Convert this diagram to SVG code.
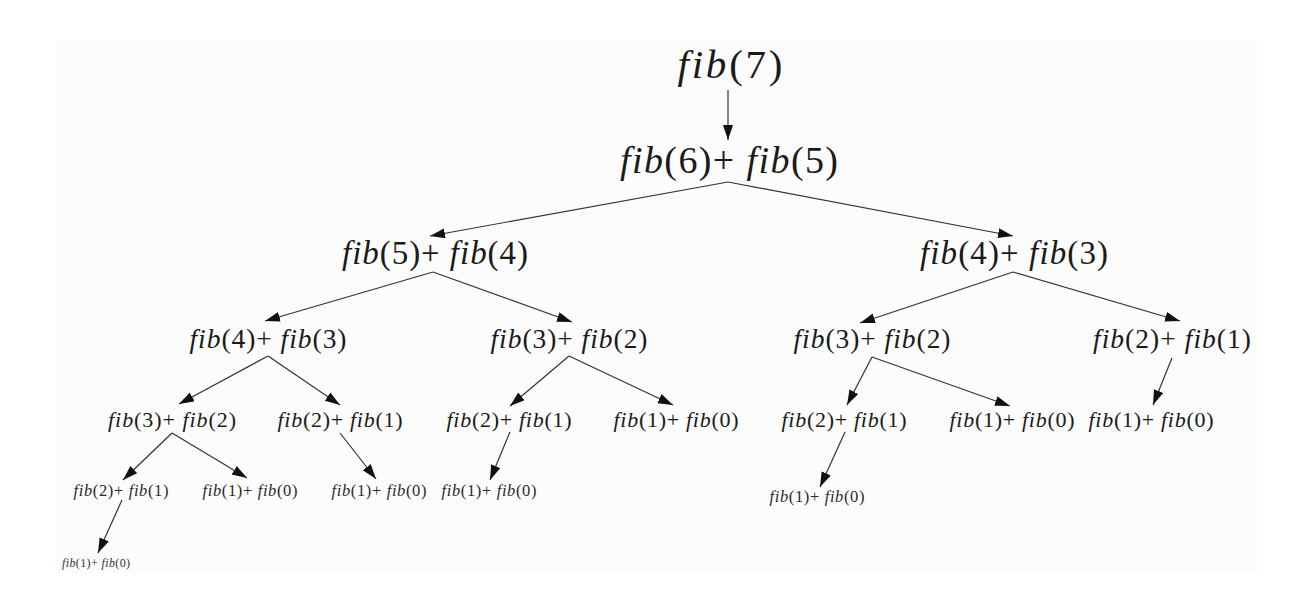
<svg xmlns="http://www.w3.org/2000/svg" width="1298" height="595" viewBox="0 0 1298 595">
<defs>
<marker id="ah" markerUnits="userSpaceOnUse" markerWidth="16" markerHeight="11" refX="15" refY="5" orient="auto">
<path d="M0,0 L15,5 L0,10 Z" fill="#111"/>
</marker>
<style>
text{font-family:"Liberation Serif","Times New Roman",serif;fill:#1a1a1a;text-anchor:middle}
.i{font-style:italic}
.l0{font-size:41px}
.l1{font-size:38px}
.l2{font-size:33px}
.l3{font-size:27.5px}
.l4{font-size:22px}
.l5{font-size:16.5px;fill:#2a2a2a}
.l6{font-size:12px;fill:#333}
#edges line{stroke:#333;stroke-width:1.2;marker-end:url(#ah)}
</style>
</defs>
<rect width="1298" height="595" fill="#fff"/>
<rect x="56" y="40" width="1201" height="533" fill="#fcfcfc"/>
<g id="edges">
<line x1="728" y1="90" x2="728" y2="140"/>
<line x1="728" y1="182" x2="430" y2="236"/>
<line x1="728" y1="182" x2="1013" y2="236"/>
<line x1="433" y1="272" x2="265" y2="321"/>
<line x1="433" y1="272" x2="572" y2="322"/>
<line x1="1013" y1="272" x2="860" y2="323"/>
<line x1="1013" y1="272" x2="1180" y2="321"/>
<line x1="268" y1="356" x2="179" y2="404"/>
<line x1="268" y1="356" x2="340" y2="405"/>
<line x1="569" y1="356" x2="510" y2="406"/>
<line x1="569" y1="356" x2="673" y2="405"/>
<line x1="872" y1="357" x2="847" y2="405"/>
<line x1="872" y1="357" x2="1010" y2="406"/>
<line x1="1172" y1="358" x2="1153" y2="405"/>
<line x1="172" y1="433" x2="123" y2="480"/>
<line x1="172" y1="433" x2="247" y2="478"/>
<line x1="340" y1="433" x2="376" y2="479"/>
<line x1="510" y1="432" x2="490" y2="480"/>
<line x1="845" y1="432" x2="820" y2="487"/>
<line x1="122" y1="500" x2="98" y2="553"/>
</g>
<g id="n0"><text class="l0" x="730" y="78" textLength="105" lengthAdjust="spacing"><tspan class="i">fib</tspan>(7)</text></g>
<g id="n1"><text class="l1" x="729" y="173" textLength="218" lengthAdjust="spacing"><tspan class="i">fib</tspan>(6)+ <tspan class="i">fib</tspan>(5)</text></g>
<g id="n2a"><text class="l2" x="435" y="264" textLength="186" lengthAdjust="spacing"><tspan class="i">fib</tspan>(5)+ <tspan class="i">fib</tspan>(4)</text></g>
<g id="n2b"><text class="l2" x="1014" y="264" textLength="188" lengthAdjust="spacing"><tspan class="i">fib</tspan>(4)+ <tspan class="i">fib</tspan>(3)</text></g>
<g id="n3a"><text class="l3" x="268" y="348" textLength="157" lengthAdjust="spacing"><tspan class="i">fib</tspan>(4)+ <tspan class="i">fib</tspan>(3)</text></g>
<g id="n3b"><text class="l3" x="569" y="348" textLength="157" lengthAdjust="spacing"><tspan class="i">fib</tspan>(3)+ <tspan class="i">fib</tspan>(2)</text></g>
<g id="n3c"><text class="l3" x="872" y="348" textLength="157" lengthAdjust="spacing"><tspan class="i">fib</tspan>(3)+ <tspan class="i">fib</tspan>(2)</text></g>
<g id="n3d"><text class="l3" x="1172" y="348" textLength="158" lengthAdjust="spacing"><tspan class="i">fib</tspan>(2)+ <tspan class="i">fib</tspan>(1)</text></g>
<g id="n4a"><text class="l4" x="172" y="427" textLength="128" lengthAdjust="spacing"><tspan class="i">fib</tspan>(3)+ <tspan class="i">fib</tspan>(2)</text></g>
<g id="n4b"><text class="l4" x="340" y="427" textLength="125" lengthAdjust="spacing"><tspan class="i">fib</tspan>(2)+ <tspan class="i">fib</tspan>(1)</text></g>
<g id="n4c"><text class="l4" x="509" y="427" textLength="125" lengthAdjust="spacing"><tspan class="i">fib</tspan>(2)+ <tspan class="i">fib</tspan>(1)</text></g>
<g id="n4d"><text class="l4" x="676" y="427" textLength="125" lengthAdjust="spacing"><tspan class="i">fib</tspan>(1)+ <tspan class="i">fib</tspan>(0)</text></g>
<g id="n4e"><text class="l4" x="844" y="427" textLength="125" lengthAdjust="spacing"><tspan class="i">fib</tspan>(2)+ <tspan class="i">fib</tspan>(1)</text></g>
<g id="n4f"><text class="l4" x="1012" y="427" textLength="125" lengthAdjust="spacing"><tspan class="i">fib</tspan>(1)+ <tspan class="i">fib</tspan>(0)</text></g>
<g id="n4g"><text class="l4" x="1151" y="427" textLength="125" lengthAdjust="spacing"><tspan class="i">fib</tspan>(1)+ <tspan class="i">fib</tspan>(0)</text></g>
<g id="n5a"><text class="l5" x="121" y="496" textLength="95" lengthAdjust="spacing"><tspan class="i">fib</tspan>(2)+ <tspan class="i">fib</tspan>(1)</text></g>
<g id="n5b"><text class="l5" x="250" y="496" textLength="95" lengthAdjust="spacing"><tspan class="i">fib</tspan>(1)+ <tspan class="i">fib</tspan>(0)</text></g>
<g id="n5c"><text class="l5" x="379" y="496" textLength="95" lengthAdjust="spacing"><tspan class="i">fib</tspan>(1)+ <tspan class="i">fib</tspan>(0)</text></g>
<g id="n5d"><text class="l5" x="489" y="496" textLength="95" lengthAdjust="spacing"><tspan class="i">fib</tspan>(1)+ <tspan class="i">fib</tspan>(0)</text></g>
<g id="n5e"><text class="l5" x="817" y="502" textLength="95" lengthAdjust="spacing"><tspan class="i">fib</tspan>(1)+ <tspan class="i">fib</tspan>(0)</text></g>
<g id="n6a"><text class="l6" x="96" y="567" textLength="68" lengthAdjust="spacing"><tspan class="i">fib</tspan>(1)+ <tspan class="i">fib</tspan>(0)</text></g>
</svg>
